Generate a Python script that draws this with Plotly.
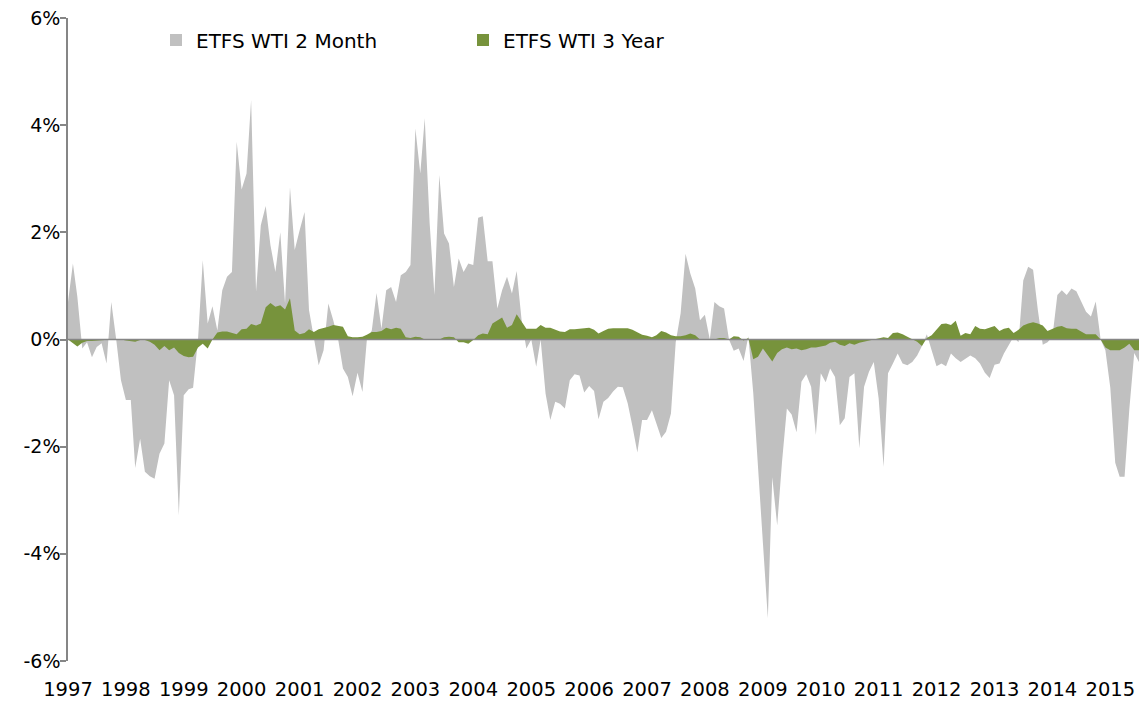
import plotly.graph_objects as go
import pandas as pd

# Monthly observations, Jan 1997 .. Jul 2015 (values in %)
start_month = "1997-01-01"

wti_2_month = [
    0.7, 1.42, 0.8, -0.17, -0.05, -0.33, -0.14, -0.07, -0.45, 0.70, 0.0, -0.76,      # 1997
    -1.13, -1.13, -2.4, -1.85, -2.47, -2.55, -2.6, -2.13, -1.94, -0.76, -1.04, -3.28, # 1998
    -1.04, -0.93, -0.9, 0.0, 1.48, 0.3, 0.62, 0.17, 0.92, 1.17, 1.26, 3.69,           # 1999
    2.8, 3.1, 4.47, 0.89, 2.13, 2.49, 1.76, 1.26, 2.0, 0.67, 2.84, 1.67,              # 2000
    2.04, 2.38, 0.55, 0.0, -0.48, -0.2, 0.67, 0.36, 0.0, -0.54, -0.7, -1.06,          # 2001
    -0.62, -0.98, 0.0, 0.17, 0.87, 0.2, 0.92, 0.98, 0.7, 1.2, 1.26, 1.39,             # 2002
    3.94, 3.1, 4.13, 2.17, 0.83, 3.07, 1.98, 1.79, 0.98, 1.51, 1.26, 1.42,            # 2003
    1.39, 2.27, 2.3, 1.46, 1.46, 0.58, 0.92, 1.17, 0.86, 1.28, 0.36, -0.17,           # 2004
    0.0, -0.51, 0.0, -1.01, -1.5, -1.16, -1.2, -1.29, -0.76, -0.65, -0.67, -0.99,     # 2005
    -0.87, -0.96, -1.49, -1.16, -1.09, -0.97, -0.88, -0.89, -1.19, -1.62, -2.11, -1.5,  # 2006
    -1.5, -1.32, -1.56, -1.84, -1.72, -1.38, -0.05, 0.49, 1.6, 1.23, 0.95, 0.36,      # 2007
    0.46, 0.0, 0.7, 0.62, 0.58, 0.0, -0.21, -0.17, -0.4, 0.06, -1.0, -2.45,           # 2008
    -3.8, -5.2, -2.57, -3.47, -2.3, -1.29, -1.4, -1.73, -0.79, -0.65, -0.88, -1.78,   # 2009
    -0.63, -0.8, -0.54, -0.7, -1.6, -1.47, -0.7, -0.63, -2.03, -0.88, -0.6, -0.42,    # 2010
    -1.1, -2.38, -0.63, -0.45, -0.26, -0.45, -0.48, -0.42, -0.3, -0.12, 0.1, -0.2,    # 2011
    -0.5, -0.45, -0.5, -0.26, -0.35, -0.42, -0.36, -0.3, -0.35, -0.45, -0.62, -0.72,  # 2012
    -0.47, -0.45, -0.26, -0.1, 0.05, -0.05, 1.1, 1.36, 1.3, 0.55, -0.1, -0.05,        # 2013
    0.05, 0.83, 0.92, 0.83, 0.95, 0.9, 0.72, 0.52, 0.43, 0.71, 0.0, -0.2,             # 2014
    -0.9, -2.3, -2.56, -2.56, -1.3, -0.25, -0.42,                                     # 2015
]

wti_3_year = [
    0.0, -0.07, -0.13, -0.06, -0.03, -0.03, -0.02, -0.01, -0.01, 0.0, 0.0, 0.0,       # 1997
    -0.02, -0.03, -0.04, -0.01, -0.01, -0.04, -0.1, -0.2, -0.12, -0.2, -0.15, -0.25,  # 1998
    -0.31, -0.33, -0.32, -0.15, -0.08, -0.17, 0.0, 0.13, 0.15, 0.15, 0.12, 0.1,       # 1999
    0.19, 0.2, 0.29, 0.26, 0.3, 0.6, 0.68, 0.61, 0.64, 0.56, 0.77, 0.17,              # 2000
    0.1, 0.12, 0.19, 0.14, 0.19, 0.21, 0.24, 0.27, 0.25, 0.24, 0.06, 0.04,            # 2001
    0.04, 0.05, 0.09, 0.14, 0.14, 0.16, 0.22, 0.19, 0.22, 0.2, 0.04, 0.03,            # 2002
    0.05, 0.04, 0.0, 0.0, 0.0, 0.0, 0.04, 0.05, 0.04, -0.05, -0.05, -0.08,            # 2003
    -0.01, 0.08, 0.11, 0.1, 0.3, 0.36, 0.41, 0.22, 0.27, 0.47, 0.33, 0.2,             # 2004
    0.2, 0.2, 0.27, 0.22, 0.22, 0.19, 0.15, 0.14, 0.19, 0.19, 0.2, 0.22,              # 2005
    0.22, 0.18, 0.11, 0.16, 0.2, 0.21, 0.21, 0.21, 0.21, 0.18, 0.13, 0.09,            # 2006
    0.07, 0.04, 0.08, 0.16, 0.13, 0.08, 0.06, 0.06, 0.08, 0.11, 0.08, 0.0,            # 2007
    0.01, -0.01, 0.0, 0.03, 0.03, 0.0, 0.06, 0.05, -0.02, 0.03, -0.37, -0.32,         # 2008
    -0.17, -0.29, -0.41, -0.25, -0.18, -0.15, -0.18, -0.17, -0.2, -0.18, -0.15, -0.15,  # 2009
    -0.13, -0.11, -0.06, -0.04, -0.1, -0.12, -0.07, -0.1, -0.06, -0.04, -0.01, 0.0,   # 2010
    0.02, 0.04, 0.03, 0.12, 0.13, 0.1, 0.05, 0.0, -0.04, -0.12, 0.03, 0.08,           # 2011
    0.18, 0.29, 0.3, 0.27, 0.35, 0.07, 0.12, 0.1, 0.25, 0.2, 0.19, 0.22,              # 2012
    0.25, 0.16, 0.2, 0.22, 0.12, 0.18, 0.26, 0.3, 0.32, 0.3, 0.26, 0.16,              # 2013
    0.2, 0.24, 0.25, 0.21, 0.2, 0.2, 0.15, 0.1, 0.1, 0.1, 0.0, -0.15,                 # 2014
    -0.2, -0.2, -0.2, -0.15, -0.08, -0.2, -0.2,                                       # 2015
]

series_names = ["ETFS WTI 2 Month", "ETFS WTI 3 Year"]
series_colors = ["#C0C0C0", "#77933C"]

year_labels = [str(y) for y in range(1997, 2016)]
y_tick_values = [-6, -4, -2, 0, 2, 4, 6]
y_tick_labels = ["-6%", "-4%", "-2%", "0%", "2%", "4%", "6%"]

assert len(wti_2_month) == len(wti_3_year)
months = pd.date_range(start_month, periods=len(wti_2_month), freq="MS")
year_tick_dates = [f"{y}-01-01" for y in year_labels]

FONT = "DejaVu Sans"
AXIS_GREY = "#868686"

fig = go.Figure()
for name, vals, col in zip(series_names, [wti_2_month, wti_3_year], series_colors):
    fig.add_trace(go.Scatter(
        x=months, y=vals, mode="lines", fill="tozeroy",
        line=dict(width=0, color=col), fillcolor=col,
        name=name, showlegend=False, hoverinfo="x+y",
    ))
# legend entries (square swatches)
for name, col in zip(series_names, series_colors):
    fig.add_trace(go.Scatter(
        x=[None], y=[None], mode="markers",
        marker=dict(symbol="square", size=12, color=col),
        name=name, showlegend=True,
    ))

fig.add_shape(type="line", xref="paper", x0=0, x1=1, yref="y", y0=0, y1=0,
              line=dict(color=AXIS_GREY, width=1.5), layer="above")

fig.update_layout(
    width=1140, height=705,
    margin=dict(l=68, r=1, t=18, b=44, autoexpand=False),
    paper_bgcolor="white", plot_bgcolor="white",
    font=dict(family=FONT, size=20, color="black"),
    legend=dict(
        orientation="h", xref="paper", yref="paper",
        x=(156 - 68) / 1071, xanchor="left",
        y=(661 - 40) / 643, yanchor="middle",
        entrywidth=262, entrywidthmode="pixels",
        bgcolor="rgba(0,0,0,0)", font=dict(family=FONT, size=20),
        itemwidth=30,
    ),
    xaxis=dict(
        type="date", range=[months[0], months[-1]],
        tickvals=year_tick_dates, ticktext=year_labels,
        showgrid=False, zeroline=False, showline=False, ticks="",
        ticklabelstandoff=14, automargin=False,
        tickfont=dict(family=FONT, size=19.5),
    ),
    yaxis=dict(
        range=[-6, 6], tickvals=y_tick_values, ticktext=y_tick_labels,
        showgrid=False, zeroline=False, showline=True,
        linecolor=AXIS_GREY, linewidth=1.5, automargin=False,
        ticks="outside", ticklen=6, tickcolor=AXIS_GREY, tickwidth=1.5,
        ticklabelstandoff=-4,
        tickfont=dict(family=FONT, size=19),
    ),
)

fig.write_html("out.html", config={"displayModeBar": False},
               post_script="document.body.style.margin='0px';")
